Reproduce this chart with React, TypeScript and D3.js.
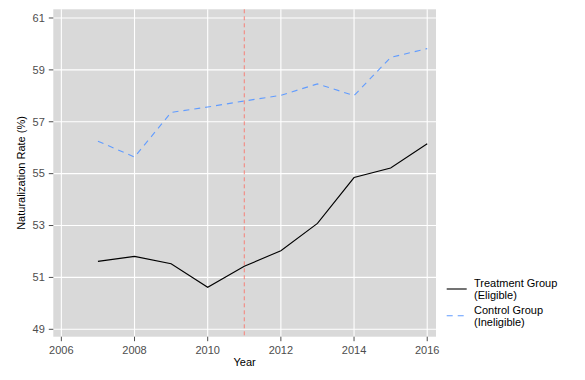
import React from "react";
import * as d3 from "d3";

const years = [2007, 2008, 2009, 2010, 2011, 2012, 2013, 2014, 2015, 2016];
const treatment = [51.62, 51.81, 51.53, 50.62, 51.43, 52.03, 53.08, 54.85, 55.22, 56.15];
const control = [56.25, 55.64, 57.36, 57.57, 57.8, 58.02, 58.46, 58.01, 59.48, 59.82];
const xTicks = [2006, 2008, 2010, 2012, 2014, 2016];
const yTicks = [49, 51, 53, 55, 57, 59, 61];
const policyYear = 2011;
const legendLabels = [["Treatment Group", "(Eligible)"], ["Control Group", "(Ineligible)"]];

export default function App() {
  const W = 585, H = 380;
  const left = 53.3, right = 436, top = 9.3, bottom = 336.7;
  const x = d3.scaleLinear().domain([2005.78, 2016.24]).range([left, right]);
  const y = d3.scaleLinear().domain([48.715, 61.335]).range([bottom, top]);
  const line = d3.line<number>().x((_, i) => x(years[i])).y((d) => y(d));
  const font = "Liberation Sans, Arial, Helvetica, sans-serif";
  return (
    <svg width={W} height={H} style={{ position: "absolute", left: 0, top: 0 }} fontFamily={font}>
      <rect x={0} y={0} width={W} height={H} fill="#fff" />
      <rect x={left} y={top} width={right - left} height={bottom - top} fill="#d9d9d9" />
      {yTicks.map((t) => (
        <line key={"gy" + t} x1={left} x2={right} y1={y(t)} y2={y(t)} stroke="#fff" strokeWidth={1.1} />
      ))}
      {xTicks.map((t) => (
        <line key={"gx" + t} x1={x(t)} x2={x(t)} y1={top} y2={bottom} stroke="#fff" strokeWidth={1.1} />
      ))}
      <line x1={x(policyYear)} x2={x(policyYear)} y1={top} y2={bottom} stroke="#f8766d" strokeWidth={0.9} strokeDasharray="4,3" />
      <path d={line(control) || ""} fill="none" stroke="#619cff" strokeWidth={1.1} strokeDasharray="6,5" />
      <path d={line(treatment) || ""} fill="none" stroke="#000" strokeWidth={1.1} />
      {yTicks.map((t) => (
        <g key={"ty" + t}>
          <line x1={left - 4.5} x2={left} y1={y(t)} y2={y(t)} stroke="#4d4d4d" strokeWidth={1} />
          <text x={left - 8.5} y={y(t)} dy="0.35em" textAnchor="end" fontSize={11} fill="#4d4d4d">{t}</text>
        </g>
      ))}
      {xTicks.map((t) => (
        <g key={"tx" + t}>
          <line x1={x(t)} x2={x(t)} y1={bottom} y2={bottom + 4.5} stroke="#4d4d4d" strokeWidth={1} />
          <text x={x(t)} y={bottom + 17.3} textAnchor="middle" fontSize={11} fill="#4d4d4d">{t}</text>
        </g>
      ))}
      <text x={(left + right) / 2} y={366} textAnchor="middle" fontSize={11} fill="#000">Year</text>
      <text transform={`translate(25,${(top + bottom) / 2}) rotate(-90)`} textAnchor="middle" fontSize={11} fill="#000">Naturalization Rate (%)</text>
      {legendLabels.map((lab, i) => {
        const ly = 289 + i * 26.7;
        return (
          <g key={"lg" + i}>
            <line x1={446.7} x2={466.7} y1={ly} y2={ly} stroke={i === 0 ? "#000" : "#619cff"} strokeWidth={1.1} strokeDasharray={i === 0 ? undefined : "6,5"} />
            <text x={474} y={ly - 2} fontSize={11} fill="#000">{lab[0]}</text>
            <text x={474} y={ly + 10} fontSize={11} fill="#000">{lab[1]}</text>
          </g>
        );
      })}
    </svg>
  );
}
